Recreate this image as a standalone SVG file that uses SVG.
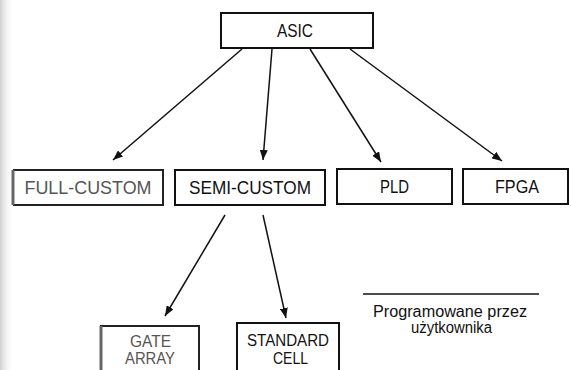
<svg xmlns="http://www.w3.org/2000/svg" width="571" height="370" viewBox="0 0 571 370">
<defs>
<marker id="ah" viewBox="0 0 10 8" refX="10" refY="4" markerWidth="10" markerHeight="8" markerUnits="userSpaceOnUse" orient="auto">
<path d="M0,0 L10,4 L0,8 Z" fill="#111"/>
</marker>
<linearGradient id="edge" x1="0" y1="0" x2="1" y2="0">
<stop offset="0" stop-color="#bbb" stop-opacity="0.7"/>
<stop offset="1" stop-color="#fff" stop-opacity="0"/>
</linearGradient>
</defs>
<style>
.box{fill:#fff;stroke:#111;stroke-width:2}
.edge{fill:none;stroke:#222;stroke-width:2}
.t{font-family:"Liberation Sans Narrow","Liberation Sans",Arial,sans-serif;font-size:18px;fill:#111;text-anchor:middle}
.m{font-family:"Liberation Sans Narrow","Liberation Sans",Arial,sans-serif;font-size:16px;fill:#111;text-anchor:middle}
.s{font-family:"Liberation Sans Narrow","Liberation Sans",Arial,sans-serif;font-size:16px;fill:#111;text-anchor:middle}
.c{fill:none;stroke:#111;stroke-width:1.5;marker-end:url(#ah)}
.faded{fill:#555}
</style>
<rect width="571" height="370" fill="#fff"/>
<rect width="14" height="370" fill="url(#edge)"/>
<g id="connectors">
<line class="c" x1="242" y1="49" x2="113" y2="160"/>
<line class="c" x1="272" y1="49" x2="263" y2="160"/>
<line class="c" x1="310" y1="49" x2="381" y2="162"/>
<line class="c" x1="350" y1="49" x2="502" y2="161"/>
<line class="c" x1="225" y1="215" x2="165" y2="316"/>
<line class="c" x1="263" y1="215" x2="286" y2="318"/>
</g>
<g id="asic">
<rect class="box" x="221" y="13" width="152" height="35"/>
<text class="t" x="295" y="37" textLength="36" lengthAdjust="spacingAndGlyphs">ASIC</text>
</g>
<g id="node-full">
<line class="edge" x1="13" y1="170" x2="164" y2="170"/>
<line class="edge" x1="163" y1="170" x2="163" y2="205"/>
<line class="edge" x1="164" y1="205" x2="13" y2="205"/>
<line x1="13" y1="170" x2="13" y2="205" stroke="#666" stroke-width="3"/>
<text class="t faded" x="88" y="194" textLength="127" lengthAdjust="spacingAndGlyphs">FULL-CUSTOM</text>
</g>
<g id="semi-custom">
<rect class="box" x="175" y="170" width="150" height="35"/>
<text class="t" x="250" y="194" textLength="122" lengthAdjust="spacingAndGlyphs">SEMI-CUSTOM</text>
</g>
<g id="pld">
<rect class="box" x="337" y="169" width="115" height="35"/>
<text class="t" x="394.5" y="193" textLength="29" lengthAdjust="spacingAndGlyphs">PLD</text>
</g>
<g id="fpga">
<rect class="box" x="463" y="169" width="105" height="35"/>
<text class="t" x="517" y="193" textLength="44" lengthAdjust="spacingAndGlyphs">FPGA</text>
</g>
<g id="node-gate">
<polyline class="edge" points="100,326 199,326 199,371"/>
<line x1="101" y1="326" x2="101" y2="371" stroke="#666" stroke-width="3"/>
<text class="m faded" x="150.5" y="347" textLength="41" lengthAdjust="spacingAndGlyphs">GATE</text>
<text class="m faded" x="150" y="364" textLength="50" lengthAdjust="spacingAndGlyphs">ARRAY</text>
</g>
<g id="standard-cell">
<rect class="box" x="237" y="323" width="102" height="53"/>
<text class="m" x="288" y="346" textLength="82" lengthAdjust="spacingAndGlyphs">STANDARD</text>
<text class="m" x="290.5" y="364" textLength="35" lengthAdjust="spacingAndGlyphs">CELL</text>
</g>
<g id="legend">
<line x1="363" y1="294" x2="539" y2="294" stroke="#111" stroke-width="1.3"/>
<text class="s" x="450" y="317" textLength="154" lengthAdjust="spacingAndGlyphs">Programowane przez</text>
<text class="s" x="451.5" y="333" textLength="81" lengthAdjust="spacingAndGlyphs">użytkownika</text>
</g>
</svg>
